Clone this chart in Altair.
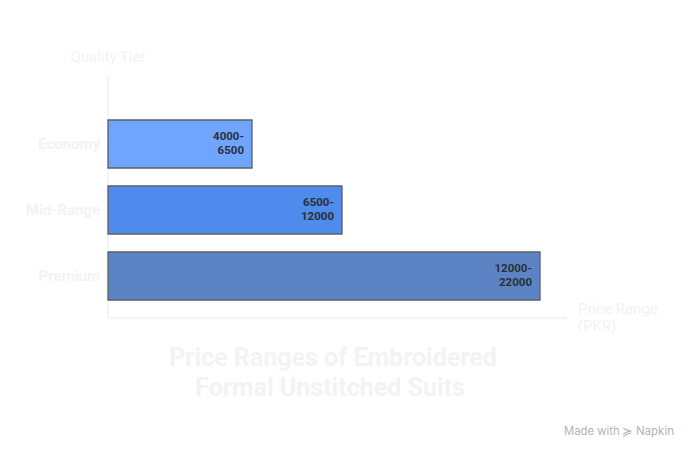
import altair as alt
import pandas as pd

tiers = ["Economy", "Mid-Range", "Premium"]
bar_ends = [8000, 13000, 24000]
range_labels = ["4000-\n6500", "6500-\n12000", "12000-\n22000"]
fills = ["#70a5ff", "#4e8bec", "#5c84c4"]
title_lines = ["Price Ranges of Embroidered", "Formal Unstitched Suits"]
x_title = "Price Range\n(PKR)"
y_title = "Quality Tier"

FAINT = "#f3f3f3"
df = pd.DataFrame({"tier": tiers, "end": bar_ends, "label": range_labels, "fill": fills})

x_scale = alt.Scale(domain=[0, 24000], range=[0, 432])
y_scale = alt.Scale(domain=tiers, range=[45, 225], paddingInner=0.2727, paddingOuter=0)

x_line = alt.Chart(df).mark_rule(color="#f5f5f5", strokeWidth=1.5).encode(
    x=alt.value(0), x2=alt.value(456), y=alt.value(243))
y_line = alt.Chart(df).mark_rule(color="#f5f5f5", strokeWidth=1.5).encode(
    x=alt.value(0), y=alt.value(5), y2=alt.value(243))
x_head = alt.Chart(df).mark_point(shape="triangle-right", filled=True, color="#f5f5f5", size=30, opacity=1).encode(
    x=alt.value(458), y=alt.value(243))
y_head = alt.Chart(df).mark_point(shape="triangle-up", filled=True, color="#f5f5f5", size=30, opacity=1).encode(
    x=alt.value(0), y=alt.value(2))

bars = alt.Chart(df).mark_bar(stroke="#5a6068", strokeWidth=1.3).encode(
    x=alt.X("end:Q", scale=x_scale, axis=None),
    y=alt.Y("tier:N", scale=y_scale, axis=None),
    fill=alt.Fill("fill:N", scale=None),
)

labels = alt.Chart(df).mark_text(
    align="right", baseline="middle", dx=-8, dy=-7, lineBreak="\n", lineHeight=14,
    font="Roboto", fontWeight=700, fontSize=11.5, color="#2b2f36",
).encode(
    x=alt.X("end:Q", scale=x_scale, axis=None),
    y=alt.Y("tier:N", scale=y_scale, axis=None, bandPosition=0.5),
    text="label:N",
)

cat_labels = alt.Chart(df).mark_text(
    align="right", baseline="middle", dx=-8, dy=0,
    font="Roboto", fontWeight=700, fontSize=15, color=FAINT,
).encode(
    x=alt.value(0),
    y=alt.Y("tier:N", scale=y_scale, axis=None, bandPosition=0.5),
    text="tier:N",
)

def note(text, x, y, **kw):
    return alt.Chart(pd.DataFrame({"t": [text]})).mark_text(**kw).encode(
        x=alt.value(x), y=alt.value(y), text="t:N")

y_t = note(y_title, 0, -18, align="center", baseline="middle", font="Roboto", fontSize=15, color=FAINT)
x_t = note(x_title, 470, 234, align="left", baseline="middle", lineBreak="\n", lineHeight=17,
           font="Roboto", fontSize=15, color=FAINT)
t1 = note(title_lines[0], 225, 283, align="center", baseline="middle", font="Roboto",
          fontWeight=700, fontSize=25, color=FAINT)
t2 = note(title_lines[1], 222, 313, align="center", baseline="middle", font="Roboto",
          fontWeight=700, fontSize=25, color=FAINT)
w1 = note("Made with", 456, 357, align="left", baseline="middle", font="Inter", fontSize=11.3, color="#b4b4b4")
w2 = note("Napkin", 566, 357, align="right", baseline="middle", font="Inter", fontSize=11.5, color="#b4b4b4")
w3 = note("≽", 514, 357, align="left", baseline="middle", font="DejaVu Sans", fontSize=13, color="#b4b4b4")

chart = alt.layer(x_line, y_line, x_head, y_head, bars, labels, cat_labels, y_t, x_t, t1, t2, w1, w2, w3).properties(
    width=460, height=243,
    background="white",
    autosize=alt.AutoSizeParams(type="none"),
    padding={"left": 100, "top": 67, "right": 112, "bottom": 124},
).configure_view(strokeWidth=0, strokeOpacity=0)

chart.save("out.html", embed_options={"renderer": "svg", "actions": False})
